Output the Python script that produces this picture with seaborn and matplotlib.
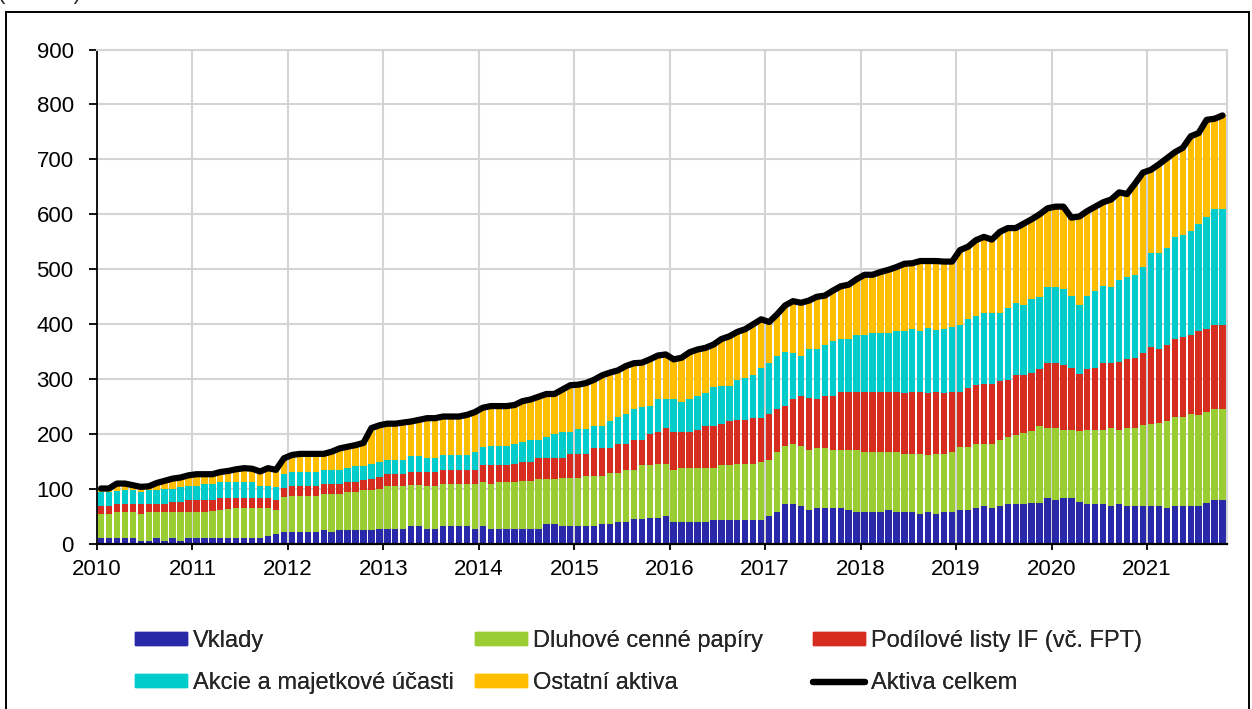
import numpy as np
import pandas as pd
import matplotlib
matplotlib.use("Agg")
import matplotlib.pyplot as plt
import matplotlib.patches as mpatches
from matplotlib.lines import Line2D
import seaborn as sns

# monthly data 2010-01 .. 2021-10, mld Kč
years = list(range(2010, 2022))

vklady = [
    11, 11, 11, 11, 11, 6, 6, 11, 6, 11, 6, 11,
    11, 11, 11, 11, 11, 11, 11, 11, 11, 14, 18, 22,
    22, 22, 22, 22, 25, 22, 25, 25, 25, 25, 25, 28,
    28, 28, 28, 32, 32, 28, 28, 32, 32, 32, 32, 28,
    32, 28, 28, 28, 28, 28, 28, 28, 36, 36, 32, 32,
    32, 32, 32, 36, 36, 40, 40, 46, 46, 48, 48, 51,
    40, 40, 40, 40, 40, 43, 43, 43, 43, 43, 43, 43,
    51, 58, 72, 72, 69, 61, 66, 66, 66, 66, 61, 58,
    58, 58, 58, 61, 58, 58, 58, 55, 58, 55, 58, 58,
    61, 61, 66, 69, 66, 69, 72, 72, 72, 75, 75, 83,
    80, 84, 84, 77, 72, 72, 72, 69, 72, 69, 69, 69,
    69, 69, 66, 69, 69, 69, 69, 75, 80, 80,
]
dluhove = [
    44, 44, 47, 47, 47, 49, 52, 47, 52, 47, 52, 47,
    47, 47, 49, 50, 52, 55, 55, 55, 55, 52, 43, 63,
    66, 66, 66, 66, 66, 69, 66, 70, 70, 73, 73, 73,
    78, 78, 78, 75, 75, 78, 78, 77, 77, 77, 77, 82,
    81, 82, 85, 85, 85, 87, 87, 90, 82, 82, 89, 89,
    89, 92, 92, 88, 93, 89, 95, 89, 97, 95, 97, 95,
    95, 99, 99, 99, 99, 96, 100, 100, 103, 103, 103, 107,
    102, 109, 107, 110, 110, 110, 108, 108, 105, 105, 110, 113,
    109, 109, 109, 106, 109, 106, 106, 109, 104, 109, 106, 110,
    115, 115, 116, 113, 116, 121, 122, 126, 130, 130, 140, 129,
    132, 124, 124, 128, 136, 136, 136, 142, 136, 143, 143, 147,
    150, 151, 157, 162, 162, 168, 165, 166, 165, 165,
]
podilove = [
    14, 14, 15, 15, 15, 18, 15, 15, 15, 19, 19, 22,
    22, 22, 20, 23, 21, 18, 18, 18, 18, 18, 19, 17,
    18, 18, 18, 18, 19, 19, 19, 18, 18, 18, 21, 21,
    21, 21, 21, 24, 24, 25, 25, 26, 26, 26, 26, 25,
    30, 33, 30, 30, 33, 34, 34, 38, 38, 38, 35, 43,
    43, 40, 50, 50, 45, 53, 47, 55, 47, 57, 59, 65,
    69, 65, 65, 69, 76, 76, 76, 80, 80, 80, 84, 80,
    84, 78, 73, 81, 91, 95, 89, 96, 99, 106, 106, 106,
    110, 110, 110, 110, 110, 110, 113, 113, 112, 113, 110, 109,
    101, 108, 107, 110, 110, 106, 105, 110, 106, 107, 103, 117,
    117, 117, 113, 105, 110, 113, 121, 118, 124, 124, 127, 131,
    140, 134, 139, 142, 145, 143, 154, 150, 153, 153,
]
akcie = [
    25, 25, 23, 25, 25, 21, 25, 25, 28, 24, 27, 26,
    26, 29, 29, 29, 29, 29, 29, 29, 21, 21, 24, 25,
    25, 25, 25, 25, 25, 25, 25, 25, 29, 26, 27, 27,
    26, 26, 26, 29, 29, 25, 25, 27, 27, 27, 27, 33,
    33, 36, 36, 36, 36, 36, 41, 34, 38, 44, 48, 40,
    45, 45, 41, 41, 49, 50, 55, 55, 59, 52, 59, 52,
    59, 55, 59, 62, 59, 70, 69, 65, 73, 77, 77, 91,
    92, 98, 98, 84, 73, 88, 91, 92, 99, 96, 96, 103,
    103, 107, 107, 107, 110, 113, 114, 110, 120, 113, 117, 118,
    121, 125, 126, 128, 128, 124, 131, 130, 127, 134, 132, 138,
    138, 139, 131, 125, 134, 140, 141, 138, 148, 150, 150, 157,
    171, 176, 177, 185, 186, 189, 195, 204, 212, 212,
]
ostatni = [
    7, 7, 14, 12, 9, 10, 7, 13, 14, 18, 17, 19,
    21, 18, 18, 18, 20, 23, 25, 24, 27, 33, 31, 29,
    31, 33, 33, 33, 29, 33, 39, 39, 38, 42, 65, 67,
    66, 66, 68, 63, 66, 73, 73, 70, 70, 70, 73, 72,
    72, 72, 72, 72, 71, 75, 73, 78, 79, 73, 77, 85,
    81, 84, 84, 92, 89, 84, 87, 84, 81, 84, 80, 82,
    73, 80, 86, 84, 83, 78, 85, 90, 87, 88, 93, 88,
    75, 75, 84, 95, 96, 89, 96, 90, 92, 96, 99, 102,
    110, 106, 111, 115, 117, 123, 120, 128, 121, 125, 123, 119,
    137, 132, 138, 139, 134, 148, 145, 137, 148, 145, 150, 144,
    147, 150, 142, 161, 154, 153, 152, 160, 160, 151, 167, 172,
    151, 161, 163, 155, 159, 173, 165, 177, 164, 170,
]

series = {
    "Vklady": (vklady, "#2828a8"),
    "Dluhové cenné papíry": (dluhove, "#9acd32"),
    "Podílové listy IF (vč. FPT)": (podilove, "#d62d20"),
    "Akcie a majetkové účasti": (akcie, "#00cccc"),
    "Ostatní aktiva": (ostatni, "#ffbf00"),
}

df = pd.DataFrame({k: v[0] for k, v in series.items()})
df["x"] = np.arange(len(df)) + 0.5
df["Aktiva celkem"] = df[list(series)].sum(axis=1)

sns.set_theme(style="white")
plt.rcParams["font.family"] = ["Liberation Sans", "DejaVu Sans"]

W, H = 1252, 709
fig = plt.figure(figsize=(W / 100, H / 100), dpi=100)
ax = fig.add_axes([97 / W, 1 - 544 / H, (1226.5 - 97) / W, (544 - 49.5) / H])

grid_c = "#d4d4d4"
ax.set_axisbelow(True)
ax.grid(True, color=grid_c, lw=1.5)

bottom = np.zeros(len(df))
for name, (vals, col) in series.items():
    ax.bar(df["x"], df[name], bottom=bottom, width=0.8, color=col, linewidth=0, zorder=2)
    bottom += df[name].to_numpy()

sns.lineplot(data=df, x="x", y="Aktiva celkem", ax=ax, color="black", lw=4.5,
             zorder=4, legend=False)

ax.set_xlim(0, len(df))
ax.set_ylim(0, 900)
ax.set_xticks(np.arange(0, 12 * len(years), 12))
ax.set_xticklabels([str(y) for y in years])
ax.set_yticks(range(0, 901, 100))
ax.set_xlabel("")
ax.set_ylabel("")

ax.tick_params(axis="x", bottom=True, length=4.5, width=1.3, pad=6.5,
               labelsize=16, colors="black", direction="out")
ax.tick_params(axis="y", left=True, length=5.8, width=1.3, pad=11,
               labelsize=16, colors="black", direction="out")

for s in ["left", "bottom"]:
    ax.spines[s].set_color("black")
ax.spines["left"].set_linewidth(1.3)
ax.spines["bottom"].set_linewidth(1.6)
for s in ["right", "top"]:
    ax.spines[s].set_color(grid_c)
    ax.spines[s].set_linewidth(1.5)

# legend: three columns, two rows
names = list(series)
handles = {n: mpatches.Patch(color=series[n][1], label=n) for n in names}
handles["Aktiva celkem"] = Line2D([], [], color="black", lw=4.5,
                                  solid_capstyle="round", label="Aktiva celkem")
columns = [
    (135, ["Vklady", "Akcie a majetkové účasti"]),
    (475, ["Dluhové cenné papíry", "Ostatní aktiva"]),
    (813, ["Podílové listy IF (vč. FPT)", "Aktiva celkem"]),
]
for xpx, labs in columns:
    leg = fig.legend(handles=[handles[l] for l in labs], loc="center left",
                     bbox_to_anchor=(xpx / W, 1 - 662 / H), bbox_transform=fig.transFigure,
                     frameon=False, fontsize=17, handlelength=2.2, handleheight=0.47,
                     handletextpad=0.25, labelspacing=0.85, borderpad=0, borderaxespad=0)
    fig.add_artist(leg)

# frame around the whole figure and the cut-off unit label
fig.patches.append(mpatches.Rectangle((6 / W, -0.01), (1249 - 6) / W, 1.01 - 12 / H,
                                      transform=fig.transFigure, fill=False,
                                      ec="black", lw=1.4))
fig.text(-2 / W, 1 + 1 / H, "(mld Kč)", fontsize=16, va="baseline", ha="left")

fig.savefig("out.png", dpi=100)
